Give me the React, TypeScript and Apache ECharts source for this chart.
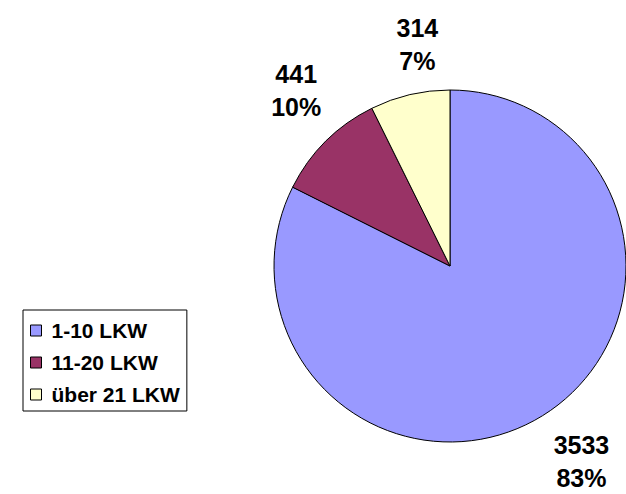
import React, { useEffect, useRef } from "react";
import * as echarts from "echarts";

const categories = ["1-10 LKW", "11-20 LKW", "über 21 LKW"];
const values = [3533, 441, 314];
const percents = ["83%", "10%", "7%"];
const colors = ["#9999FF", "#993366", "#FFFFCC"];

// fine label nudges (layout only)
const labelNudgeX = [8, 12, 21];
const labelNudgeY = [-4, -9, 7];

export default function App() {
  const ref = useRef<HTMLDivElement>(null);
  useEffect(() => {
    if (!ref.current) return;
    const chart = echarts.init(ref.current, null, { renderer: "svg" });
    const font = "'Liberation Sans', Arial, Helvetica, sans-serif";
    const data = categories.map((name, i) => ({
      name,
      value: values[i],
      itemStyle: { color: colors[i] },
    }));
    chart.setOption({
      animation: false,
      backgroundColor: "#ffffff",
      legend: {
        orient: "vertical",
        left: 23,
        top: 310,
        data: categories,
        icon: "rect",
        itemWidth: 11,
        itemHeight: 11,
        itemGap: 11,
        padding: [10, 7, 6, 7],
        borderColor: "#000000",
        borderWidth: 1,
        itemStyle: { borderColor: "#000000", borderWidth: 1 },
        textStyle: {
          fontFamily: font,
          fontWeight: "bold",
          fontSize: 21,
          color: "#000000",
          padding: [0, 0, 0, 5],
        },
        selectedMode: false,
      },
      series: [
        {
          type: "pie",
          center: [450, 266],
          radius: 176,
          startAngle: 90,
          clockwise: true,
          data,
          label: { show: false },
          labelLine: { show: false },
          itemStyle: { borderColor: "#000000", borderWidth: 1 },
          emphasis: { disabled: true },
          silent: true,
        },
        {
          type: "pie",
          center: [450, 266],
          radius: [220, 244],
          startAngle: 90,
          clockwise: true,
          data: categories.map((name, i) => ({ name, value: values[i] })),
          itemStyle: { color: "rgba(0,0,0,0)", borderWidth: 0 },
          label: {
            show: true,
            position: "inside",
            formatter: (p: any) => `${p.value}\n${percents[p.dataIndex]}`,
            fontFamily: font,
            fontWeight: "bold",
            fontSize: 25,
            lineHeight: 33,
            color: "#000000",
            align: "center",
          },
          labelLayout: (params: any) => ({
            dx: labelNudgeX[params.dataIndex],
            dy: labelNudgeY[params.dataIndex],
          }),
          labelLine: { show: false },
          emphasis: { disabled: true },
          silent: true,
          legendHoverLink: false,
        },
      ],
    });
    return () => chart.dispose();
  }, []);
  return (
    <div
      ref={ref}
      style={{ position: "fixed", left: 0, top: 0, width: 626, height: 494 }}
    />
  );
}
